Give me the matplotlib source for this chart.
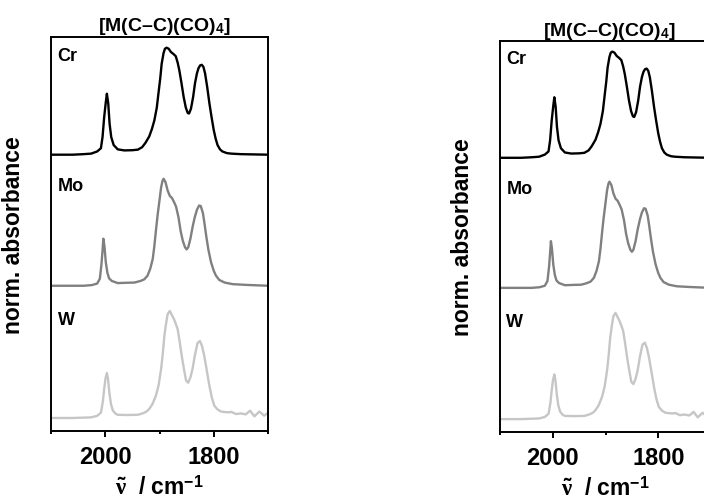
import matplotlib
matplotlib.use("Agg")
import matplotlib.pyplot as plt
from matplotlib.ticker import MultipleLocator

plt.rcParams["font.family"] = ["Liberation Sans", "DejaVu Sans"]
plt.rcParams["mathtext.fontset"] = "custom"
plt.rcParams["mathtext.rm"] = "Liberation Sans:bold"
plt.rcParams["mathtext.bf"] = "Liberation Sans:bold"
plt.rcParams["mathtext.it"] = "Liberation Serif:bold"

# IR spectra of [M(C-C)(CO)4], normalised absorbance vs wavenumber (cm^-1)
cr_nu = [2100, 2060, 2040, 2026, 2015, 2008, 2005, 2002, 1999, 1997, 1994.5, 1992,
         1989, 1984.5, 1977, 1965, 1950, 1940, 1932, 1926, 1919, 1914, 1909.5, 1905,
         1902, 1898.5, 1896, 1892.5, 1890, 1887, 1883, 1879, 1874, 1870, 1866.5,
         1863.5, 1859.5, 1855.5, 1851.5, 1848, 1845.5, 1842, 1838, 1834.5, 1831,
         1828, 1825, 1822, 1819, 1816, 1812, 1808, 1804, 1800, 1796.5, 1793, 1788.5,
         1784, 1776, 1768, 1750, 1730, 1700]
cr_abs = [0.0, 0.0, 0.005, 0.01, 0.03, 0.06, 0.165, 0.35, 0.49, 0.57, 0.48, 0.29,
          0.165, 0.09, 0.05, 0.04, 0.042, 0.047, 0.07, 0.11, 0.17, 0.24, 0.32, 0.44,
          0.57, 0.72, 0.85, 0.95, 0.99, 1.0, 0.99, 0.96, 0.94, 0.92, 0.86,
          0.79, 0.67, 0.54, 0.44, 0.39, 0.385, 0.43, 0.54, 0.67, 0.76,
          0.81, 0.835, 0.84, 0.82, 0.76, 0.63, 0.48, 0.35, 0.23, 0.15, 0.09, 0.05,
          0.03, 0.015, 0.01, 0.005, 0.003, 0.0]

mo_nu = [2100, 2040, 2025, 2015, 2010, 2007, 2005, 2003.5, 2001.5, 1999, 1996, 1993,
         1988, 1977, 1960, 1946, 1935, 1928, 1922, 1917, 1912.5, 1909.5, 1906.5, 1903.5,
         1900, 1897, 1894.5, 1892.5, 1889, 1885, 1881, 1877, 1873, 1869.5, 1865, 1861,
         1857, 1853, 1850, 1847, 1843, 1839, 1835, 1831, 1827, 1824, 1820, 1817, 1814,
         1810, 1805, 1800, 1796, 1790, 1780, 1765, 1740, 1700]
mo_abs = [0.0, 0.0, 0.006, 0.02, 0.065, 0.2, 0.33, 0.44, 0.37, 0.22, 0.12, 0.07,
          0.045, 0.025, 0.028, 0.03, 0.045, 0.06, 0.095, 0.16, 0.25, 0.37, 0.52, 0.66,
          0.80, 0.92, 0.98, 1.0, 0.97, 0.89, 0.84, 0.82, 0.78, 0.74, 0.64, 0.51,
          0.42, 0.36, 0.34, 0.36, 0.44, 0.55, 0.64, 0.71, 0.75, 0.745, 0.68, 0.58, 0.47,
          0.34, 0.22, 0.14, 0.095, 0.055, 0.03, 0.015, 0.008, 0.0]

w_nu = [2100, 2060, 2026, 2015, 2008, 2004.5, 2002, 1999.5, 1997, 1995, 1992.5, 1989.5,
        1986, 1981, 1977, 1960, 1940, 1930, 1924, 1919, 1913, 1906.5, 1901.5, 1897,
        1894, 1891, 1888, 1885, 1881, 1877, 1873, 1870, 1866.5, 1863, 1859, 1855,
        1851, 1847, 1843, 1839, 1835, 1830, 1825.5, 1821.5, 1817.5, 1813, 1808,
        1803.5, 1799, 1793, 1786.5, 1778, 1771, 1768, 1759, 1750, 1741, 1733, 1725,
        1716, 1707, 1700]
w_abs = [0.0, 0.0, 0.006, 0.02, 0.05, 0.15, 0.27, 0.37, 0.42, 0.37, 0.24, 0.13,
         0.07, 0.04, 0.03, 0.028, 0.03, 0.045, 0.06, 0.084, 0.13, 0.21, 0.31, 0.46,
         0.6, 0.77, 0.88, 0.97, 1.0, 0.96, 0.92, 0.88, 0.83, 0.72, 0.58, 0.46,
         0.35, 0.33, 0.38, 0.46, 0.58, 0.70, 0.72, 0.67, 0.58, 0.45, 0.30,
         0.19, 0.115, 0.08, 0.06, 0.055, 0.053, 0.058, 0.037, 0.043, 0.034, 0.068, 0.016,
         0.06, 0.022, 0.05]

metals = ["Cr", "Mo", "W"]
colors = ["#000000", "#808080", "#c6c6c6"]
offsets = [2.461, 1.236, 0.0]
spectra = [(cr_nu, cr_abs), (mo_nu, mo_abs), (w_nu, w_abs)]
label_ypos = [0.954, 0.624, 0.283]

title = r"[M(C–C)(CO)$_\mathbf{4}$]"

fig = plt.figure(figsize=(7.04, 5.02), dpi=100)
W, H = 704, 502
panels = [
    (51, 432, 217, 394),   # left, bottom(px from top), width, height
    (500, 433, 211, 391),
]

for (x0, yb, w, h) in panels:
    ax = fig.add_axes([x0 / W, (H - yb) / H, w / W, h / H])
    for (nu, a), off, c in zip(spectra, offsets, colors):
        ax.plot(nu, [v + off for v in a], color=c, lw=1.7,
                solid_joinstyle="round")
    ax.set_xlim(2100, 1700)
    ax.set_ylim(-0.1215, 3.561)
    ax.xaxis.set_major_locator(MultipleLocator(200))
    ax.xaxis.set_minor_locator(MultipleLocator(100))
    ax.set_yticks([])
    ax.tick_params(axis="x", which="major", length=4, width=1.4, pad=6,
                   labelsize=17, direction="out")
    ax.tick_params(axis="x", which="minor", length=2.2, width=1.4, direction="out")
    for lbl in ax.get_xticklabels():
        lbl.set_fontweight("bold")
    for sp in ax.spines.values():
        sp.set_linewidth(1.4)
    for m, yp in zip(metals, label_ypos):
        ax.text(0.03, yp, m, transform=ax.transAxes, fontsize=13,
                fontweight="bold", va="center", ha="left")
    ax.text(0.52, 1.028, title, transform=ax.transAxes, fontsize=14,
            fontweight="bold", ha="center", va="center")
    ax.set_ylabel("norm. absorbance", fontsize=16.5, fontweight="bold")
    ax.yaxis.set_label_coords(-0.122, 0.5)
    ax.set_xlabel(r"$\tilde{\nu}$  / cm$^{-1}$", fontsize=16.5,
                  fontweight="bold", labelpad=5)

fig.savefig("out.png", dpi=100)
